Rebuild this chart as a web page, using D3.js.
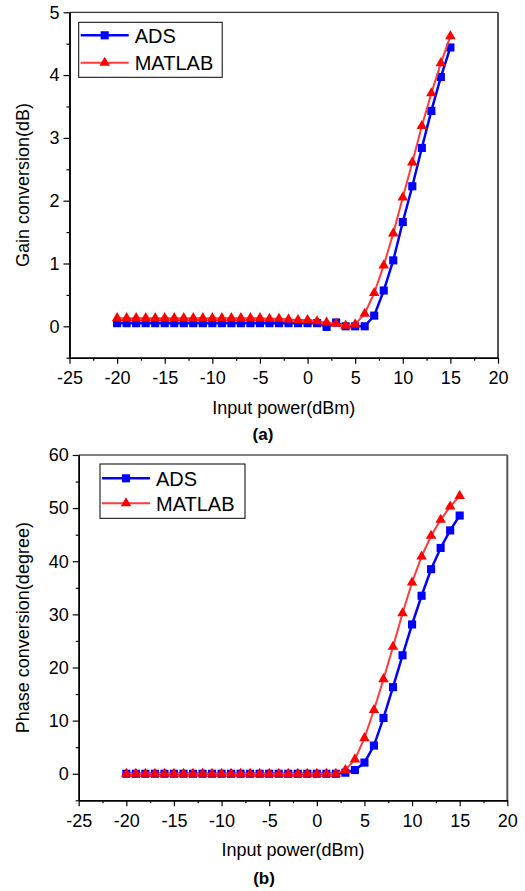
<!DOCTYPE html>
<html>
<head>
<meta charset="utf-8">
<script src="https://cdn.jsdelivr.net/npm/d3@7"></script>
<style>
body{margin:0;background:#fff;}
text{font-family:"Liberation Sans",Arial,sans-serif;fill:#000;}
</style>
</head>
<body>
<script>
// DATA
var inputPower=[-20,-19,-18,-17,-16,-15,-14,-13,-12,-11,-10,-9,-8,-7,-6,-5,-4,-3,-2,-1,0,1,2,3,4,5,6,7,8,9,10,11,12,13,14,15];

var gainADS=[0.05,0.05,0.05,0.05,0.05,0.05,0.05,0.05,0.05,0.05,0.05,0.05,0.05,0.05,0.05,0.05,0.05,0.05,0.05,0.05,0.05,0.05,
  -0.01,0.06,0,0,0,0.17,0.57,1.05,1.66,2.23,2.84,3.43,3.97,4.44];
var gainMATLAB=[0.13,0.13,0.13,0.13,0.13,0.13,0.13,0.13,0.13,0.13,0.13,0.13,0.13,0.13,0.13,0.13,
  0.12,0.12,0.11,0.10,0.10,0.08,0.06,0.04,0.01,0.03,0.2,0.53,0.97,1.48,2.05,2.61,3.19,3.71,4.19,4.62];

var phaseADS=[0,0,0,0,0,0,0,0,0,0,0,0,0,0,0,0,0,0,0,0,0,0,0,
  0.2,0.7,2.1,5.3,10.5,16.3,22.3,28.1,33.5,38.5,42.5,45.8,48.6];
var phaseMATLAB=[0,0,0,0,0,0,0,0,0,0,0,0,0,0,0,0,0,0,0,0,0,0,0,
  0.7,2.7,6.7,12.0,17.8,23.9,30.2,36.0,40.9,44.8,47.8,50.3,52.3];

var xTicks=[-25,-20,-15,-10,-5,0,5,10,15,20];
var xMinor=[-22.5,-17.5,-12.5,-7.5,-2.5,2.5,7.5,12.5,17.5];
var gainTicks=[0,1,2,3,4,5];
var gainMinor=[-0.5,0.5,1.5,2.5,3.5,4.5];
var phaseTicks=[0,10,20,30,40,50,60];
var phaseMinor=[-5,5,15,25,35,45,55];
var seriesNames=["ADS","MATLAB"];

var svg=d3.select("body").append("svg")
  .attr("width",525).attr("height",891);

var blue="#0000ff", redLine="#ff3b3b", redMark="#ff0000";

function panel(p){
  var g=svg.append("g");
  var x=d3.scaleLinear().domain([-25,20]).range([p.left,p.right]);
  var y=d3.scaleLinear().domain(p.yDomain).range([p.bottom,p.top]);

  // frame top / right
  g.append("line").attr("x1",p.left).attr("x2",p.right).attr("y1",p.top).attr("y2",p.top)
    .attr("stroke","#000").attr("stroke-width",1);
  g.append("line").attr("x1",p.right).attr("x2",p.right).attr("y1",p.top).attr("y2",p.bottom)
    .attr("stroke","#555").attr("stroke-width",2);

  // axes
  var xa=g.append("g").attr("transform","translate(0,"+p.bottom+")")
    .call(d3.axisBottom(x).tickValues(xTicks).tickSize(6).tickSizeOuter(0).tickPadding(8).tickFormat(d3.format("d")));
  g.append("g").attr("transform","translate(0,"+p.bottom+")")
    .call(d3.axisBottom(x).tickValues(xMinor).tickSize(3).tickSizeOuter(0).tickFormat(""));
  var ya=g.append("g").attr("transform","translate("+p.left+",0)")
    .call(d3.axisLeft(y).tickValues(p.yTicks).tickSize(6).tickSizeOuter(0).tickPadding(4).tickFormat(d3.format("d")));
  g.append("g").attr("transform","translate("+p.left+",0)")
    .call(d3.axisLeft(y).tickValues(p.yMinor).tickSize(3).tickSizeOuter(0).tickFormat(""));
  g.selectAll(".domain").attr("stroke","#000").attr("stroke-width",1.5);
  g.selectAll(".tick line").attr("stroke","#000").attr("stroke-width",1.2);
  g.selectAll(".tick text").style("font-size","18px").attr("fill","#000");
  xa.selectAll(".tick text").text(function(d){return d;});

  // labels
  g.append("text").attr("x",(p.left+p.right)/2).attr("y",p.xLabelY)
    .attr("text-anchor","middle").style("font-size","18px").text("Input power(dBm)");
  g.append("text").attr("transform","translate(29,"+((p.top+p.bottom)/2)+") rotate(-90)")
    .attr("text-anchor","middle").style("font-size","18px").text(p.yLabel);
  g.append("text").attr("x",p.capX).attr("y",p.capY)
    .attr("text-anchor","middle").style("font-size","17px").style("font-weight","bold").text(p.caption);

  // series
  var series=[
    {vals:p.ads,line:blue,mark:blue,sym:d3.symbolSquare,size:66,w:2.5},
    {vals:p.matlab,line:redLine,mark:redMark,sym:d3.symbolTriangle,size:48,w:2}
  ];
  var line=d3.line().x(function(d){return x(d[0]);}).y(function(d){return y(d[1]);});
  series.forEach(function(s){
    var pts=inputPower.map(function(v,i){return [v,s.vals[i]];});
    g.append("path").datum(pts).attr("d",line).attr("fill","none")
      .attr("stroke",s.line).attr("stroke-width",s.w);
    g.selectAll(null).data(pts).enter().append("path")
      .attr("transform",function(d){return "translate("+x(d[0])+","+y(d[1])+")";})
      .attr("d",d3.symbol().type(s.sym).size(s.size))
      .attr("fill",s.mark);
  });

  // legend
  var L=p.legend;
  g.append("rect").attr("x",L.x).attr("y",L.y).attr("width",L.w).attr("height",L.h)
    .attr("fill","#fff").attr("stroke","#000").attr("stroke-width",1);
  series.forEach(function(s,i){
    var cy=L.y+L.row0+i*L.dy;
    g.append("line").attr("x1",L.x+2).attr("x2",L.x+50).attr("y1",cy).attr("y2",cy)
      .attr("stroke",s.line).attr("stroke-width",s.w);
    g.append("path").attr("transform","translate("+(L.x+26)+","+cy+")")
      .attr("d",d3.symbol().type(s.sym).size(s.size)).attr("fill",s.mark);
    g.append("text").attr("x",L.x+56).attr("y",cy).attr("dy","0.36em")
      .style("font-size","20px").text(seriesNames[i]);
  });
}

panel({left:69.5,right:498,top:12.3,bottom:357.7,yDomain:[-0.5,5],
  yTicks:gainTicks,yMinor:gainMinor,ads:gainADS,matlab:gainMATLAB,
  yLabel:"Gain conversion(dB)",xLabelY:414,caption:"(a)",capX:263,capY:440,
  legend:{x:78.7,y:22.3,w:143.5,h:55,row0:13,dy:27.5}});

panel({left:78.7,right:507.3,top:455,bottom:800.3,yDomain:[-5,60],
  yTicks:phaseTicks,yMinor:phaseMinor,ads:phaseADS,matlab:phaseMATLAB,
  yLabel:"Phase conversion(degree)",xLabelY:856,caption:"(b)",capX:264,capY:884,
  legend:{x:100,y:464,w:145,h:54.3,row0:14.3,dy:25}});
</script>
</body>
</html>
